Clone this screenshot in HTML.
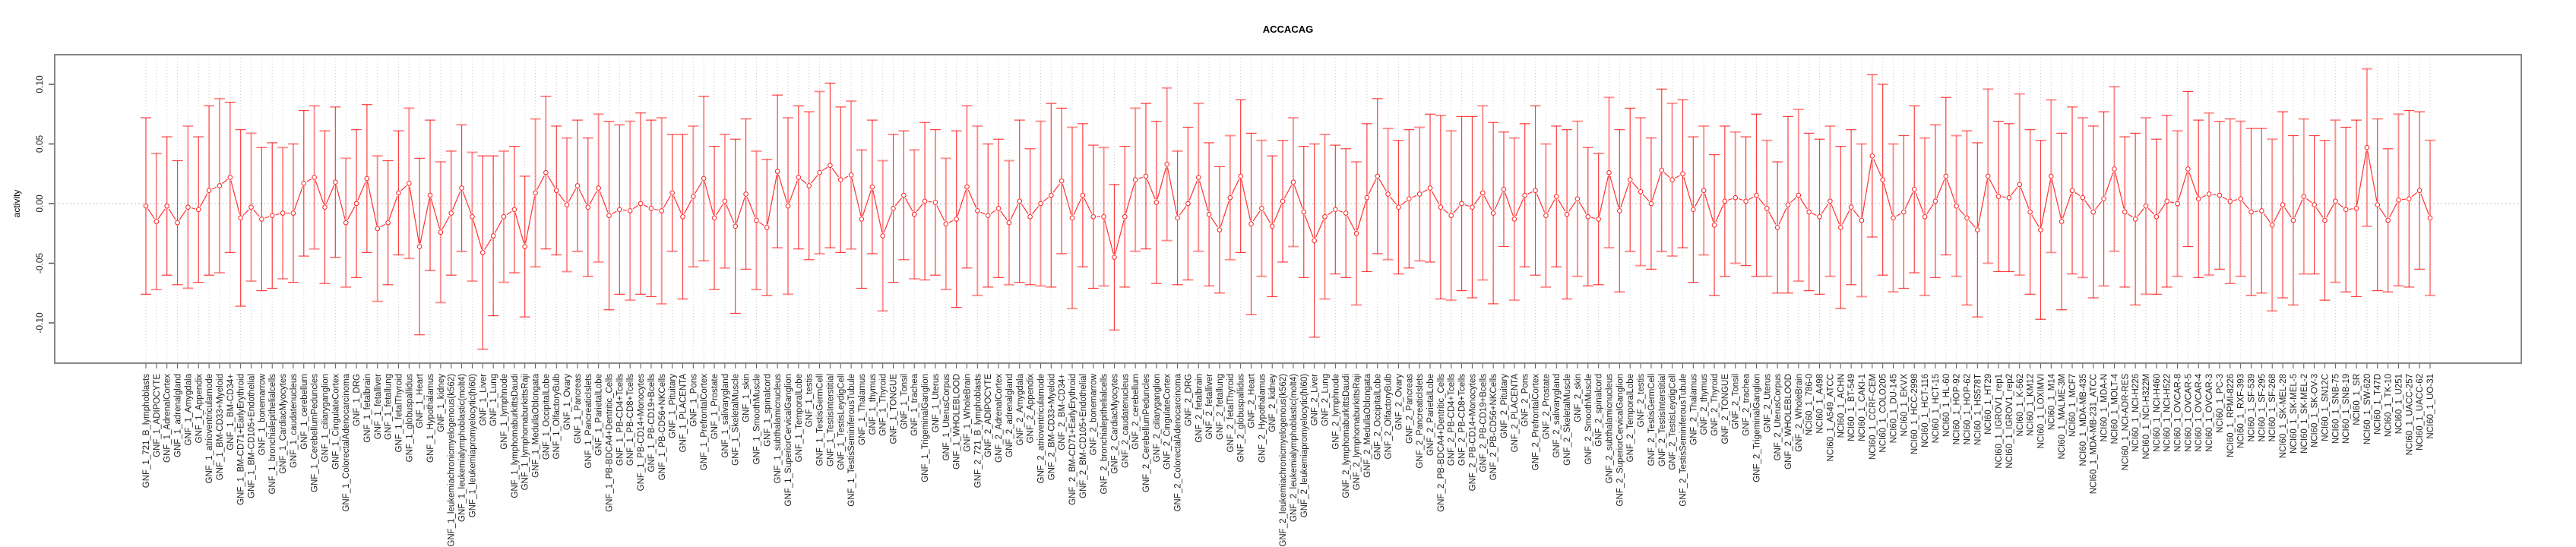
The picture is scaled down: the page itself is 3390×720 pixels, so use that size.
<!DOCTYPE html>
<html><head><meta charset="utf-8"><title>ACCACAG</title>
<style>
html,body{margin:0;padding:0;background:#fff;}
svg{display:block;font-family:"Liberation Sans",sans-serif;}
</style></head>
<body>
<svg id="chart" width="3390" height="720" viewBox="0 0 3390 720" xmlns="http://www.w3.org/2000/svg">
<text x="1695" y="43" text-anchor="middle" font-size="13" font-weight="bold" fill="#000">ACCACAG</text>
<text transform="translate(26,268) rotate(-90)" text-anchor="middle" font-size="12" fill="#000">activity</text>
<g id="grid"></g>
<g id="yaxis"></g>
<g id="xaxis"></g>
<g id="series"></g>
<rect x="72" y="72" width="3246" height="406" fill="none" stroke="#888" stroke-width="2"/>
</svg>
<script>
const categories = ["GNF_1_721_B_lymphoblasts","GNF_1_ADIPOCYTE","GNF_1_AdrenalCortex","GNF_1_adrenalgland","GNF_1_Amygdala","GNF_1_Appendix","GNF_1_atrioventricularnode","GNF_1_BM-CD33+Myeloid","GNF_1_BM-CD34+","GNF_1_BM-CD71+EarlyErythroid","GNF_1_BM-CD105+Endothelial","GNF_1_bonemarrow","GNF_1_bronchialepithelialcells","GNF_1_CardiacMyocytes","GNF_1_caudatenucleus","GNF_1_cerebellum","GNF_1_CerebellumPeduncles","GNF_1_ciliaryganglion","GNF_1_CingulateCortex","GNF_1_ColorectalAdenocarcinoma","GNF_1_DRG","GNF_1_fetalbrain","GNF_1_fetalliver","GNF_1_fetallung","GNF_1_fetalThyroid","GNF_1_globuspallidus","GNF_1_Heart","GNF_1_Hypothalamus","GNF_1_kidney","GNF_1_leukemiachronicmyelogenous(k562)","GNF_1_leukemialymphoblastic(molt4)","GNF_1_leukemiapromyelocytic(hl60)","GNF_1_Liver","GNF_1_Lung","GNF_1_lymphnode","GNF_1_lymphomaburkittsDaudi","GNF_1_lymphomaburkittsRaji","GNF_1_MedullaOblongata","GNF_1_OccipitalLobe","GNF_1_OlfactoryBulb","GNF_1_Ovary","GNF_1_Pancreas","GNF_1_PancreaticIslets","GNF_1_ParietalLobe","GNF_1_PB-BDCA4+Dentritic_Cells","GNF_1_PB-CD4+Tcells","GNF_1_PB-CD8+Tcells","GNF_1_PB-CD14+Monocytes","GNF_1_PB-CD19+Bcells","GNF_1_PB-CD56+NKCells","GNF_1_Pituitary","GNF_1_PLACENTA","GNF_1_Pons","GNF_1_PrefrontalCortex","GNF_1_Prostate","GNF_1_salivarygland","GNF_1_SkeletalMuscle","GNF_1_skin","GNF_1_SmoothMuscle","GNF_1_spinalcord","GNF_1_subthalamicnucleus","GNF_1_SuperiorCervicalGanglion","GNF_1_TemporalLobe","GNF_1_testis","GNF_1_TestisGermCell","GNF_1_TestisInterstitial","GNF_1_TestisLeydigCell","GNF_1_TestisSeminiferousTubule","GNF_1_Thalamus","GNF_1_thymus","GNF_1_Thyroid","GNF_1_TONGUE","GNF_1_Tonsil","GNF_1_trachea","GNF_1_TrigeminalGanglion","GNF_1_Uterus","GNF_1_UterusCorpus","GNF_1_WHOLEBLOOD","GNF_1_WholeBrain",
"GNF_2_721_B_lymphoblasts","GNF_2_ADIPOCYTE","GNF_2_AdrenalCortex","GNF_2_adrenalgland","GNF_2_Amygdala","GNF_2_Appendix","GNF_2_atrioventricularnode","GNF_2_BM-CD33+Myeloid","GNF_2_BM-CD34+","GNF_2_BM-CD71+EarlyErythroid","GNF_2_BM-CD105+Endothelial","GNF_2_bonemarrow","GNF_2_bronchialepithelialcells","GNF_2_CardiacMyocytes","GNF_2_caudatenucleus","GNF_2_cerebellum","GNF_2_CerebellumPeduncles","GNF_2_ciliaryganglion","GNF_2_CingulateCortex","GNF_2_ColorectalAdenocarcinoma","GNF_2_DRG","GNF_2_fetalbrain","GNF_2_fetalliver","GNF_2_fetallung","GNF_2_fetalThyroid","GNF_2_globuspallidus","GNF_2_Heart","GNF_2_Hypothalamus","GNF_2_kidney","GNF_2_leukemiachronicmyelogenous(k562)","GNF_2_leukemialymphoblastic(molt4)","GNF_2_leukemiapromyelocytic(hl60)","GNF_2_Liver","GNF_2_Lung","GNF_2_lymphnode","GNF_2_lymphomaburkittsDaudi","GNF_2_lymphomaburkittsRaji","GNF_2_MedullaOblongata","GNF_2_OccipitalLobe","GNF_2_OlfactoryBulb","GNF_2_Ovary","GNF_2_Pancreas","GNF_2_PancreaticIslets","GNF_2_ParietalLobe","GNF_2_PB-BDCA4+Dentritic_Cells","GNF_2_PB-CD4+Tcells","GNF_2_PB-CD8+Tcells","GNF_2_PB-CD14+Monocytes","GNF_2_PB-CD19+Bcells","GNF_2_PB-CD56+NKCells","GNF_2_Pituitary","GNF_2_PLACENTA","GNF_2_Pons","GNF_2_PrefrontalCortex","GNF_2_Prostate","GNF_2_salivarygland","GNF_2_SkeletalMuscle","GNF_2_skin","GNF_2_SmoothMuscle","GNF_2_spinalcord","GNF_2_subthalamicnucleus","GNF_2_SuperiorCervicalGanglion","GNF_2_TemporalLobe","GNF_2_testis","GNF_2_TestisGermCell","GNF_2_TestisInterstitial","GNF_2_TestisLeydigCell","GNF_2_TestisSeminiferousTubule","GNF_2_Thalamus","GNF_2_thymus","GNF_2_Thyroid","GNF_2_TONGUE","GNF_2_Tonsil","GNF_2_trachea","GNF_2_TrigeminalGanglion","GNF_2_Uterus","GNF_2_UterusCorpus","GNF_2_WHOLEBLOOD","GNF_2_WholeBrain",
"NCI60_1_786-0","NCI60_1_A498","NCI60_1_A549_ATCC","NCI60_1_ACHN","NCI60_1_BT-549","NCI60_1_CAKI-1","NCI60_1_CCRF-CEM","NCI60_1_COLO205","NCI60_1_DU-145","NCI60_1_EKVX","NCI60_1_HCC-2998","NCI60_1_HCT-116","NCI60_1_HCT-15","NCI60_1_HL-60","NCI60_1_HOP-92","NCI60_1_HOP-62","NCI60_1_HS578T","NCI60_1_HT29","NCI60_1_IGROV1_rep1","NCI60_1_IGROV1_rep2","NCI60_1_K-562","NCI60_1_KM12","NCI60_1_LOXIMVI","NCI60_1_M14","NCI60_1_MALME-3M","NCI60_1_MCF7","NCI60_1_MDA-MB-435","NCI60_1_MDA-MB-231_ATCC","NCI60_1_MDA-N","NCI60_1_MOLT-4","NCI60_1_NCI-ADR-RES","NCI60_1_NCI-H226","NCI60_1_NCI-H322M","NCI60_1_NCI-H460","NCI60_1_NCI-H522","NCI60_1_OVCAR-8","NCI60_1_OVCAR-5","NCI60_1_OVCAR-4","NCI60_1_OVCAR-3","NCI60_1_PC-3","NCI60_1_RPMI-8226","NCI60_1_RXF-393","NCI60_1_SF-539","NCI60_1_SF-295","NCI60_1_SF-268","NCI60_1_SK-MEL-28","NCI60_1_SK-MEL-5","NCI60_1_SK-MEL-2","NCI60_1_SK-OV-3","NCI60_1_SN12C","NCI60_1_SNB-75","NCI60_1_SNB-19","NCI60_1_SR","NCI60_1_SW-620","NCI60_1_T47D","NCI60_1_TK-10","NCI60_1_U251","NCI60_1_UACC-257","NCI60_1_UACC-62","NCI60_1_UO-31"];
const meanValues = [-0.002,-0.015,-0.002,-0.016,-0.003,-0.005,0.011,0.015,0.022,-0.012,-0.003,-0.013,-0.010,-0.008,-0.008,0.017,0.022,-0.003,0.018,-0.016,0.000,0.021,-0.021,-0.016,0.009,0.017,-0.036,0.007,-0.024,-0.008,0.013,-0.011,-0.041,-0.027,-0.011,-0.005,-0.036,0.009,0.026,0.011,-0.001,0.015,-0.003,0.013,-0.010,-0.005,-0.006,0.000,-0.004,-0.006,0.009,-0.011,0.006,0.021,-0.012,0.002,-0.019,0.008,-0.014,-0.020,0.027,-0.002,0.022,0.015,0.026,0.032,0.020,0.024,-0.013,0.014,-0.027,-0.004,0.007,-0.009,0.002,0.001,-0.017,-0.013,0.014,
-0.006,-0.010,-0.004,-0.016,0.002,-0.011,0.000,0.007,0.019,-0.012,0.007,-0.011,-0.011,-0.045,-0.011,0.020,0.023,0.001,0.033,-0.012,0.000,0.022,-0.009,-0.022,0.005,0.023,-0.017,-0.004,-0.019,0.002,0.018,-0.007,-0.031,-0.011,-0.005,-0.008,-0.025,0.005,0.023,0.008,-0.003,0.004,0.008,0.013,-0.003,-0.010,0.000,-0.003,0.009,-0.008,0.012,-0.013,0.007,0.011,-0.010,0.006,-0.009,0.004,-0.011,-0.013,0.026,-0.006,0.020,0.010,0.000,0.028,0.020,0.025,-0.005,0.011,-0.018,0.002,0.005,0.002,0.007,-0.004,-0.020,-0.001,0.007,
-0.007,-0.011,0.002,-0.020,-0.003,-0.014,0.040,0.020,-0.012,-0.007,0.012,-0.011,0.002,0.023,-0.002,-0.012,-0.022,0.023,0.006,0.005,0.016,-0.007,-0.022,0.023,-0.015,0.011,0.005,-0.007,0.004,0.029,-0.007,-0.013,-0.002,-0.011,0.002,0.000,0.029,0.004,0.008,0.007,0.002,0.004,-0.007,-0.006,-0.018,-0.001,-0.014,0.006,-0.001,-0.014,0.002,-0.005,-0.004,0.047,-0.001,-0.014,0.003,0.004,0.011,-0.012];
const errValues = [0.074,0.057,0.058,0.052,0.068,0.061,0.071,0.073,0.063,0.074,0.062,0.060,0.061,0.055,0.058,0.061,0.060,0.064,0.063,0.054,0.062,0.062,0.061,0.052,0.052,0.063,0.074,0.063,0.059,0.052,0.053,0.054,0.081,0.067,0.055,0.053,0.059,0.062,0.064,0.054,0.056,0.055,0.058,0.062,0.079,0.071,0.075,0.076,0.074,0.078,0.049,0.069,0.059,0.069,0.060,0.056,0.073,0.063,0.058,0.057,0.064,0.074,0.060,0.062,0.068,0.069,0.061,0.062,0.058,0.056,0.063,0.062,0.054,0.054,0.066,0.061,0.055,0.074,0.068,
0.071,0.060,0.058,0.052,0.068,0.057,0.069,0.077,0.061,0.076,0.060,0.060,0.058,0.061,0.059,0.060,0.061,0.068,0.064,0.056,0.064,0.062,0.060,0.053,0.052,0.064,0.076,0.057,0.059,0.051,0.054,0.055,0.081,0.069,0.054,0.054,0.060,0.062,0.065,0.055,0.056,0.058,0.056,0.062,0.077,0.071,0.073,0.076,0.073,0.076,0.048,0.068,0.060,0.071,0.060,0.059,0.071,0.065,0.058,0.055,0.063,0.068,0.060,0.062,0.055,0.068,0.064,0.062,0.061,0.054,0.059,0.063,0.055,0.054,0.068,0.057,0.055,0.074,0.072,
0.066,0.065,0.063,0.068,0.065,0.064,0.068,0.080,0.062,0.064,0.070,0.066,0.064,0.066,0.059,0.073,0.073,0.073,0.063,0.062,0.076,0.069,0.075,0.064,0.074,0.070,0.067,0.072,0.073,0.069,0.063,0.072,0.074,0.065,0.072,0.061,0.065,0.066,0.068,0.062,0.069,0.065,0.070,0.069,0.072,0.078,0.071,0.065,0.058,0.067,0.068,0.069,0.074,0.066,0.072,0.060,0.072,0.074,0.066,0.065];
const yTickValues = [0.10,0.05,0.00,-0.05,-0.10];
const yTickLabels = ["0.10","0.05","0.00","-0.05","-0.10"];

const NS = "http://www.w3.org/2000/svg";
const PL = 72, PR = 3318, PT = 72, PB = 478;
const X0 = 192, X1 = 3198;
function xScale(i){ return X0 + i * (X1 - X0) / (categories.length - 1); }
function yScale(v){ return 268 - v * 1570; }
function mk(tag, attrs, parent){ const e = document.createElementNS(NS, tag); for (const k in attrs) e.setAttribute(k, attrs[k]); parent.appendChild(e); return e; }

const grid = document.getElementById('grid');
const yaxis = document.getElementById('yaxis');
const xaxis = document.getElementById('xaxis');
const series = document.getElementById('series');

// zero line
const zl = mk('line', {x1:PL, x2:PR, y1:yScale(0), y2:yScale(0), stroke:'#bbb', 'stroke-width':1, 'stroke-dasharray':'2,3'}, grid);



// y axis
const yl = mk('line', {x1:PL, x2:PL, y1:yScale(yTickValues[0]), y2:yScale(yTickValues[yTickValues.length-1]), stroke:'#555', 'stroke-width':2}, yaxis);


yTickValues.forEach((v, k) => {
  const y = yScale(v);
  const t = mk('line', {x1:PL-8, x2:PL, y1:y, y2:y, stroke:'#555', 'stroke-width':1.5}, yaxis);
  
  
  const tx = mk('text', {transform:'translate(56,'+y+') rotate(-90)', 'text-anchor':'middle', 'font-size':12, fill:'#222'}, yaxis);
  tx.textContent = yTickLabels[k];
  
  
});

// x axis baseline
const xl = mk('line', {x1:xScale(0), x2:xScale(categories.length-1), y1:PB, y2:PB, stroke:'#555', 'stroke-width':1.5}, xaxis);



categories.forEach((c, i) => {
  const x = xScale(i);
  const g = mk('line', {x1:x, x2:x, y1:PT, y2:PB, stroke:'#ccc', 'stroke-width':1, 'stroke-dasharray':'1,3'}, grid);
  
  
  const t = mk('line', {x1:x, x2:x, y1:PB, y2:PB+7, stroke:'#555', 'stroke-width':1}, xaxis);
  
  
  const lb = mk('text', {transform:'translate('+(x+4)+','+(PB+14)+') rotate(-90)', 'text-anchor':'end', 'font-size':11.5, fill:'#222'}, xaxis);
  lb.textContent = c;
  
  
});

// error bars
meanValues.forEach((m, i) => {
  const x = xScale(i), e = errValues[i];
  const yh = yScale(m + e), yl2 = yScale(m - e);
  const g = mk('g', {stroke: i % 3 === 1 ? 'rgba(255,60,60,0.55)' : 'rgba(255,0,0,0.75)', 'stroke-width': i % 3 === 1 ? 2 : 1.2}, series);
  
  
  mk('line', {x1:x, x2:x, y1:yh, y2:yl2}, g);
  mk('line', {x1:x-7, x2:x+7, y1:yh, y2:yh}, g);
  mk('line', {x1:x-7, x2:x+7, y1:yl2, y2:yl2}, g);
});

// connecting line segments
for (let i = 0; i < meanValues.length - 1; i++) {
  const xa = xScale(i), ya = yScale(meanValues[i]), xb = xScale(i+1), yb = yScale(meanValues[i+1]);
  const dx = xb - xa, dy = yb - ya, L = Math.hypot(dx, dy), g = 4.5;
  if (L <= 2*g) continue;
  const s = mk('line', {x1:xa+dx*g/L, y1:ya+dy*g/L, x2:xb-dx*g/L, y2:yb-dy*g/L, stroke:'#f33', 'stroke-width':1.2}, series);
  
  
}

// points
meanValues.forEach((m, i) => {
  const p = mk('circle', {cx:xScale(i), cy:yScale(m), r:2.8, fill:'#fff', stroke:'#f22', 'stroke-width':1}, series);
  
  
});
</script>
</body></html>
